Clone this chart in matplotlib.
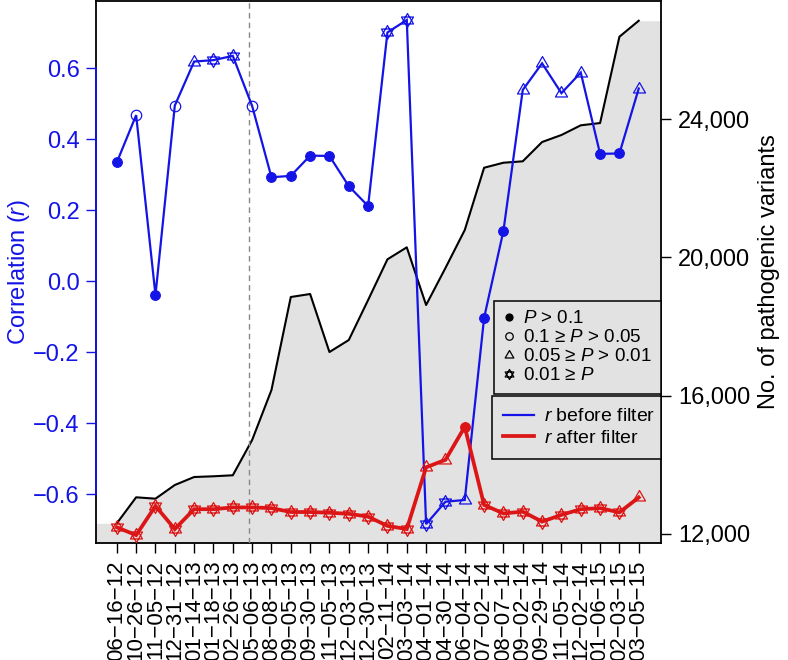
import matplotlib
matplotlib.use('Agg')
import matplotlib.pyplot as plt
from matplotlib.path import Path
from matplotlib.lines import Line2D
import numpy as np

# ---------------- data ----------------
dates = ["06-16-12", "10-26-12", "11-05-12", "12-31-12", "01-14-13", "01-18-13",
         "02-26-13", "05-06-13", "08-08-13", "09-05-13", "09-30-13", "11-05-13",
         "12-03-13", "12-30-13", "02-11-14", "03-03-14", "04-01-14", "04-30-14",
         "06-04-14", "07-02-14", "08-07-14", "09-02-14", "09-29-14", "11-05-14",
         "12-02-14", "01-06-15", "02-03-15", "03-05-15"]

n_variants = [12309, 13061, 13021, 13417, 13648, 13669, 13698, 14718, 16164, 18854,
              18941, 17263, 17610, 18767, 19944, 20291, 18623, 19693, 20792, 22593,
              22738, 22779, 23337, 23540, 23820, 23886, 26382, 26845]

r_before = [0.335, 0.468, -0.039, 0.495, 0.619, 0.623, 0.635, 0.494, 0.293, 0.297,
            0.354, 0.353, 0.268, 0.212, 0.701, 0.736, -0.684, -0.621, -0.616, -0.103,
            0.142, 0.539, 0.614, 0.530, 0.588, 0.359, 0.360, 0.543]
# P-value class: 0 = P>0.1, 1 = 0.1>=P>0.05, 2 = 0.05>=P>0.01, 3 = 0.01>=P
p_before = [0, 1, 0, 1, 2, 3, 3, 1, 0, 0, 0, 0, 0, 0, 3, 3, 3, 3, 2, 0, 0, 2, 2, 2, 2, 0, 0, 2]

r_after = [-0.693, -0.715, -0.633, -0.698, -0.642, -0.642, -0.637, -0.637, -0.639, -0.650,
           -0.650, -0.652, -0.655, -0.663, -0.689, -0.698, -0.524, -0.503, -0.410, -0.630,
           -0.654, -0.649, -0.677, -0.658, -0.642, -0.639, -0.651, -0.609]
p_after = [3, 3, 3, 3, 3, 3, 3, 3, 3, 3, 3, 3, 3, 3, 3, 3, 2, 2, 0, 3, 3, 3, 3, 3, 3, 3, 3, 2]

filter_pos = 6.85  # position of dashed vertical marker (between 02-26-13 and 05-06-13)

p_labels = ['$P$ > 0.1', '0.1 \u2265 $P$ > 0.05', '0.05 \u2265 $P$ > 0.01', '0.01 \u2265 $P$']
series_labels = ['$r$ before filter', '$r$ after filter']

# ---------------- style ----------------
plt.rcParams['font.family'] = ['Liberation Sans', 'DejaVu Sans']
plt.rcParams['mathtext.fontset'] = 'custom'
plt.rcParams['mathtext.rm'] = 'Liberation Sans'
plt.rcParams['mathtext.it'] = 'Liberation Sans:italic'

BLUE = '#1414e6'
RED = '#dc1616'
GREY = '#e2e2e2'

tri_path = Path([(0, 1), (-0.866, -0.5), (0.866, -0.5), (0, 1)],
                [Path.MOVETO, Path.LINETO, Path.LINETO, Path.CLOSEPOLY])
star_path = Path([(0, 1), (-0.866, -0.5), (0.866, -0.5), (0, 1),
                  (0, -1), (-0.866, 0.5), (0.866, 0.5), (0, -1)],
                 [Path.MOVETO, Path.LINETO, Path.LINETO, Path.CLOSEPOLY,
                  Path.MOVETO, Path.LINETO, Path.LINETO, Path.CLOSEPOLY])

marker_styles = {
    0: dict(marker='o', ms=7, fillstyle='full', mew=0.8),
    1: dict(marker='o', ms=7.5, fillstyle='none', mew=0.9),
    2: dict(marker=tri_path, ms=10, fillstyle='none', mew=0.9),
    3: dict(marker=star_path, ms=10, fillstyle='none', mew=0.9),
}

fig = plt.figure(figsize=(7.88, 6.6), dpi=100)
ax = fig.add_axes([0.1215, 0.1773, 0.7173, 0.8212])
ax2 = ax.twinx()
ax.set_zorder(ax2.get_zorder() + 1)
ax.patch.set_visible(False)

x = np.arange(len(dates))
xlim = (-1.09, len(dates) - 1 + 1.15)
ax.set_xlim(*xlim)
ax2.set_xlim(*xlim)

# ---- number of variants (right axis) ----
ylim2 = (11740, 27416)
ax2.set_ylim(*ylim2)
xf = np.concatenate([[xlim[0]], x, [xlim[1]]])
yf = np.concatenate([[n_variants[0]], n_variants, [n_variants[-1]]])
ax2.fill_between(xf, yf, ylim2[0], color=GREY, lw=0, zorder=1)
ax2.plot(x, n_variants, color='black', lw=1.5, zorder=2)
ax2.set_yticks([12000, 16000, 20000, 24000])
ax2.set_yticklabels(['{:,}'.format(v) for v in [12000, 16000, 20000, 24000]])
ax2.tick_params(axis='y', direction='out', length=7.5, width=1.0, pad=5, labelsize=17, colors='black')
ax2.set_ylabel('No. of pathogenic variants', fontsize=17, labelpad=5)

# ---- correlation (left axis) ----
ax.set_ylim(-0.7372, 0.7896)
ax.axvline(filter_pos, color='#888888', lw=1.0, ls=(0, (4, 3)), zorder=1)

def draw_series(vals, pclass, color, lw):
    ax.plot(x, vals, color=color, lw=lw, zorder=3, solid_joinstyle='miter')
    vals = np.asarray(vals)
    pclass = np.asarray(pclass)
    for k, st in marker_styles.items():
        m = pclass == k
        if m.any():
            ax.plot(x[m], vals[m], ls='none', color=color, mfc=color if st['fillstyle'] == 'full' else 'none',
                    mec=color, marker=st['marker'], ms=st['ms'], mew=st['mew'], zorder=4)

draw_series(r_before, p_before, BLUE, 1.6)
draw_series(r_after, p_after, RED, 2.7)

ax.set_yticks([-0.6, -0.4, -0.2, 0.0, 0.2, 0.4, 0.6])
ax.set_yticklabels(['\u22120.6', '\u22120.4', '\u22120.2', '0.0', '0.2', '0.4', '0.6'])
ax.tick_params(axis='y', direction='out', length=7.5, width=1.0, pad=4, labelsize=17,
               colors=BLUE)
ax.set_ylabel('Correlation ($r$)', color=BLUE, fontsize=17, labelpad=1)

ax.set_xticks(x)
ax.set_xticklabels([d.replace('-', '\u2212') for d in dates], rotation=90, fontsize=16)
ax.tick_params(axis='x', direction='out', length=7.5, width=1.0, pad=5)
ax2.tick_params(axis='x', length=0)

for sp in ['top', 'right', 'bottom', 'left']:
    ax.spines[sp].set_visible(False)
    ax2.spines[sp].set_color('black')
    ax2.spines[sp].set_linewidth(1.3)
# blue left axis line between outer ticks
ax.spines['left'].set_visible(True)
ax.spines['left'].set_color(BLUE)
ax.spines['left'].set_linewidth(1.3)
ax.spines['left'].set_bounds(-0.6, 0.6)

# ---- legends ----
h1 = []
for k in range(4):
    st = marker_styles[k]
    h1.append(Line2D([], [], ls='none', color='black', marker=st['marker'],
                     ms=st['ms'] * 0.72, mfc='black' if st['fillstyle'] == 'full' else 'none',
                     mec='black', mew=0.9))
leg1 = ax.legend(h1, p_labels, loc='upper right', bbox_to_anchor=(1.0, 0.4465),
                 frameon=True, fancybox=False, edgecolor='black', facecolor=GREY,
                 framealpha=1, fontsize=13.5, borderpad=0.5, labelspacing=0.1,
                 handlelength=0.6, handletextpad=0.45, borderaxespad=0)
leg1.get_frame().set_linewidth(1.1)
ax.add_artist(leg1)

h2 = [Line2D([], [], color=BLUE, lw=1.6), Line2D([], [], color=RED, lw=2.7)]
leg2 = ax.legend(h2, series_labels, loc='upper left', bbox_to_anchor=(0.7005, 0.0, 0.2995, 0.271),
                 mode='expand', frameon=True, fancybox=False, edgecolor='black', facecolor=GREY,
                 framealpha=1, fontsize=14, borderpad=0.6, labelspacing=0.2,
                 handlelength=1.6, handletextpad=0.5, borderaxespad=0)
leg2.get_frame().set_linewidth(1.1)

fig.savefig('out.png', dpi=100)
